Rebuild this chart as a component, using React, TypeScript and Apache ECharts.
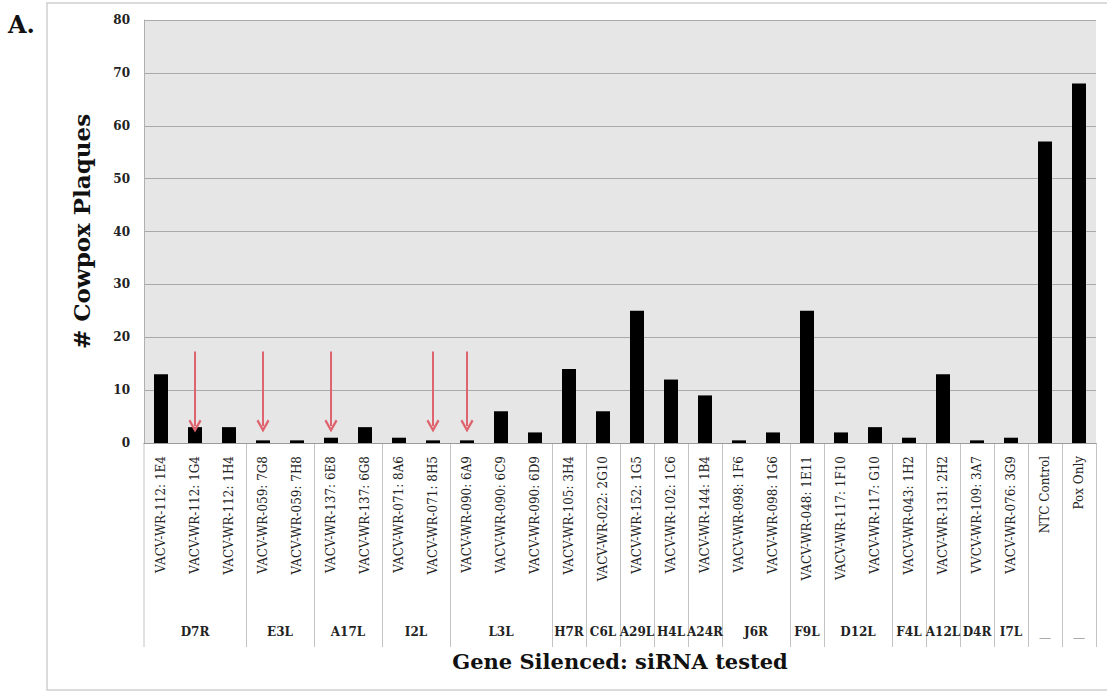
import React, { useEffect, useRef } from "react";
import * as echarts from "echarts";

const categories = [
  "VACV-WR-112: 1E4", "VACV-WR-112: 1G4", "VACV-WR-112: 1H4",
  "VACV-WR-059: 7G8", "VACV-WR-059: 7H8",
  "VACV-WR-137: 6E8", "VACV-WR-137: 6G8",
  "VACV-WR-071: 8A6", "VACV-WR-071: 8H5",
  "VACV-WR-090: 6A9", "VACV-WR-090: 6C9", "VACV-WR-090: 6D9",
  "VACV-WR-105: 3H4", "VACV-WR-022: 2G10", "VACV-WR-152: 1G5",
  "VACV-WR-102: 1C6", "VACV-WR-144: 1B4",
  "VACV-WR-098: 1F6", "VACV-WR-098: 1G6",
  "VACV-WR-048: 1E11",
  "VACV-WR-117: 1F10", "VACV-WR-117: G10",
  "VACV-WR-043: 1H2", "VACV-WR-131: 2H2", "VVCV-WR-109: 3A7", "VACV-WR-076: 3G9",
  "NTC Control", "Pox Only",
];

const plaques = [13, 3, 3, 0.5, 0.5, 1, 3, 1, 0.5, 0.5, 6, 2, 14, 6, 25, 12, 9, 0.5, 2, 25, 2, 3, 1, 13, 0.5, 1, 57, 68];

const groupNames = ["D7R", "E3L", "A17L", "I2L", "L3L", "H7R", "C6L", "A29L", "H4L", "A24R", "J6R", "F9L", "D12L", "F4L", "A12L", "D4R", "I7L", "—", "—"];
const groupSizes = [3, 2, 2, 2, 3, 1, 1, 1, 1, 1, 2, 1, 2, 1, 1, 1, 1, 1, 1];

const arrowIndices = [1, 3, 5, 8, 9];
const arrowFrom = 17.3;
const arrowTo = 3.2;

const yMin = 0;
const yMax = 80;
const yInterval = 10;

const SERIF = "'DejaVu Serif', 'Liberation Serif', serif";

export default function App() {
  const ref = useRef<HTMLDivElement>(null);
  useEffect(() => {
    if (!ref.current) return;
    const chart = echarts.init(ref.current, null, { renderer: "svg" });
    chart.setOption({
      animation: false,
      backgroundColor: "#ffffff",
      grid: {
        left: 144,
        right: 11,
        top: 20,
        bottom: 249,
        show: true,
        backgroundColor: "#e6e6e6",
        borderWidth: 0,
      },
      xAxis: {
        type: "category",
        data: categories,
        name: "Gene Silenced: siRNA tested",
        nameLocation: "middle",
        nameGap: 208,
        nameTextStyle: { fontFamily: SERIF, fontWeight: "bold", fontSize: 21, color: "#111" },
        axisLine: { show: true, lineStyle: { color: "#9a9a9a", width: 1 } },
        axisTick: { show: false },
        axisLabel: {
          interval: 0,
          rotate: 90,
          margin: 13,
          fontFamily: SERIF,
          fontSize: 12,
          color: "#222",
        },
      },
      yAxis: {
        type: "value",
        min: yMin,
        max: yMax,
        interval: yInterval,
        name: "# Cowpox Plaques",
        nameLocation: "middle",
        nameGap: 51,
        nameRotate: 90,
        nameTextStyle: { fontFamily: SERIF, fontWeight: "bold", fontSize: 23, color: "#111" },
        axisLine: { show: true, lineStyle: { color: "#b0b0b0" } },
        axisTick: { show: false },
        axisLabel: { fontFamily: SERIF, fontWeight: "bold", fontSize: 12, color: "#222", margin: 14 },
        splitLine: { show: true, lineStyle: { color: "#a9a9a9", width: 1 } },
      },
      series: [
        {
          type: "bar",
          data: plaques,
          barWidth: 14,
          itemStyle: { color: "#000000" },
          markLine: {
            silent: true,
            symbol: ["none", "path://M5,0 L10,8 L8.6,9 L5,3.3 L1.4,9 L0,8 Z"],
            symbolSize: 13,
            label: { show: false },
            lineStyle: { color: "#e06470", width: 2, type: "solid" },
            data: arrowIndices.map((i) => [
              { coord: [categories[i], arrowFrom] },
              { coord: [categories[i], arrowTo] },
            ]),
          },
        },
      ],
    });

    const c0 = chart.convertToPixel({ xAxisIndex: 0 }, categories[0]) as number;
    const c1 = chart.convertToPixel({ xAxisIndex: 0 }, categories[1]) as number;
    const band = c1 - c0;
    const y0 = chart.convertToPixel({ yAxisIndex: 0 }, 0) as number;
    const boundary = (i: number) => c0 + (i - 0.5) * band;

    const graphics: any[] = [
      {
        type: "rect",
        shape: { x: 47, y: 3, width: 1100, height: 687 },
        style: { fill: "none", stroke: "#cfcfcf", lineWidth: 1.5 },
        silent: true,
        z: -10,
      },
      {
        type: "text",
        x: 8,
        y: 12,
        style: { text: "A.", font: `bold 24px ${SERIF}`, fill: "#111" },
      },
    ];
    let start = 0;
    graphics.push({
      type: "line",
      shape: { x1: boundary(0), y1: y0, x2: boundary(0), y2: y0 + 204 },
      style: { stroke: "#c4c4c4", lineWidth: 1 },
    });
    groupSizes.forEach((n, g) => {
      const end = start + n;
      const xb = Math.round(boundary(end)) + 0.5;
      graphics.push({
        type: "line",
        shape: { x1: xb, y1: y0, x2: xb, y2: y0 + 204 },
        style: { stroke: "#c4c4c4", lineWidth: 1 },
      });
      const cx = (boundary(start) + boundary(end)) / 2;
      const isDash = groupNames[g] === "—";
      graphics.push({
        type: "text",
        x: cx,
        y: isDash ? y0 + 195 : y0 + 189,
        style: {
          text: groupNames[g],
          font: isDash ? `12px ${SERIF}` : `bold 12px ${SERIF}`,
          fill: isDash ? "#aaaaaa" : "#222",
          align: "center",
          verticalAlign: "middle",
          textAlign: "center",
          textVerticalAlign: "middle",
        },
      });
      start = end;
    });
    chart.setOption({ graphic: graphics });

    return () => chart.dispose();
  }, []);
  return (
    <div
      ref={ref}
      style={{ position: "absolute", left: 0, top: 0, width: 1107, height: 692 }}
    />
  );
}
